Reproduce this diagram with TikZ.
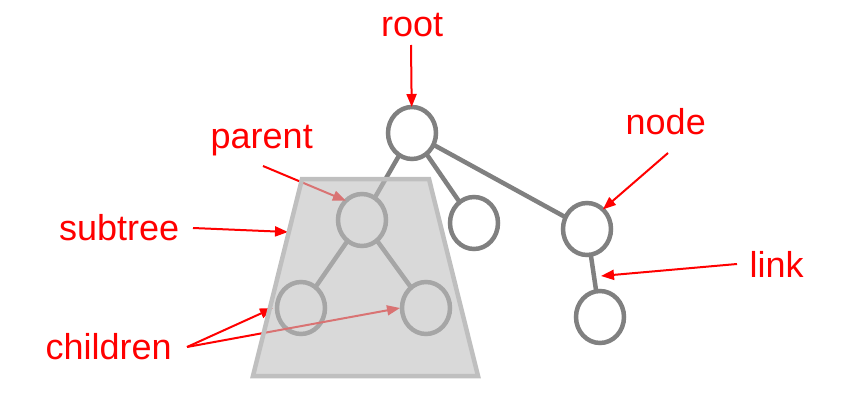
\documentclass[tikz,border=0pt]{standalone}
\usepackage{fontspec}
\setmainfont{Liberation Sans}
\usetikzlibrary{shapes.geometric,arrows.meta}
\definecolor{treegray}{HTML}{808080}
\definecolor{boxfill}{HTML}{C0C0C0}
\definecolor{boxedge}{HTML}{BFBFBF}
\definecolor{lblred}{HTML}{FF0000}
\begin{document}
\begin{tikzpicture}[x=1pt,y=-1pt,
  tnode/.style={draw=treegray, line width=4.5pt, ellipse, minimum width=48pt, minimum height=52pt, inner sep=0pt, outer sep=0pt},
  tedge/.style={draw=treegray, line width=4.5pt},
  lbl/.style={text=lblred, font=\fontsize{36}{40}\selectfont, inner sep=0pt, anchor=base west},
  ptr/.style={draw=lblred, line width=2pt, -{Triangle[length=13pt,width=10pt]}},
  trap/.style={fill=boxfill, fill opacity=0.6, draw=boxedge, line width=4.5pt, line join=miter},
]
\useasboundingbox (0,0) rectangle (857,420);

% tree nodes
\node[tnode] (root) at (412,133) {};
\node[tnode] (par)  at (362,220) {};
\node[tnode] (mid)  at (474,223) {};
\node[tnode] (rn)   at (587,229) {};
\node[tnode] (lc)   at (301,308) {};
\node[tnode] (rc)   at (426,308) {};
\node[tnode] (bc)   at (600,317) {};

% links
\draw[tedge] (root) -- (par);
\draw[tedge] (root) -- (mid);
\draw[tedge] (root) -- (rn);
\draw[tedge] (par) -- (lc);
\draw[tedge] (par) -- (rc);
\draw[tedge] (rn) -- (bc);

% labels
\node[lbl] (lroot) at (381,37) {root};
\node[lbl] (lpar) at (210.5,148) {parent};
\node[lbl] (lnode) at (625.5,134) {node};
\node[lbl] (llink) at (749.5,277) {link};
\node[lbl] (lsub) at (59,240) {subtree};
\node[lbl] (lchild) at (45.5,359) {children};

% arrow ends
\coordinate (sroot) at (411,45);
\coordinate (spar) at (263,166);
\coordinate (snode) at (668,153);
\coordinate (slink) at (737,264);
\coordinate (ssub) at (193,228);
\coordinate (schild) at (187,347);
\coordinate (tlink) at (601,276);
\coordinate (tsub) at (288,232);

% pointers
\draw[ptr] (sroot) -- (root);
\draw[ptr] (spar) -- (par.130);
\draw[ptr] (snode) -- (rn.51);
\draw[ptr] (slink) -- (tlink);
\draw[ptr] (ssub) -- (tsub);
\draw[ptr] (schild) -- ([xshift=-4pt]lc.west);
\draw[ptr] (schild) -- ([xshift=-2pt]rc.west);

% subtree overlay
\coordinate (tl) at (302,179);
\coordinate (tr) at (429,179);
\coordinate (br) at (478,376);
\coordinate (bl) at (253,376);
\draw[trap] (tl) -- (tr) -- (br) -- (bl) -- cycle;
\end{tikzpicture}
\end{document}
